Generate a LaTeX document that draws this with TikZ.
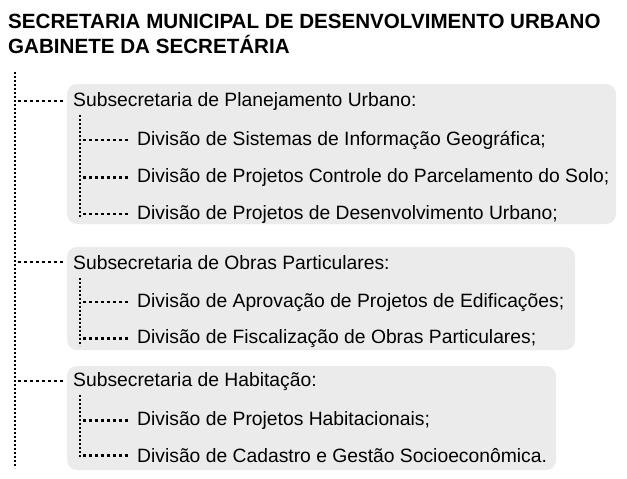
\documentclass[tikz,border=0pt]{standalone}
\usepackage{fontspec}
\setmainfont{Liberation Sans}
\begin{document}
\begin{tikzpicture}[x=1pt,y=-1pt,
  boxbg/.style={fill=boxgray, rounded corners=10pt, draw=none},
  lbl/.style={anchor=base west, inner sep=0pt, font=\fontsize{19.3}{22}\selectfont},
  ttl/.style={anchor=base west, inner sep=0pt, font=\fontsize{20.6}{24}\selectfont\bfseries},
  vdots/.style={line width=2.7pt, dash pattern=on 2.4pt off 1.6pt},
  hdots/.style={line width=2.6pt, dash pattern=on 2.5pt off 3.5pt}
]
\definecolor{boxgray}{HTML}{EBEBEB}
\useasboundingbox (0,0) rectangle (627,479);
\fill[white] (0,0) rectangle (627,479);
% title
\node[ttl] (t1) at (8,28) {SECRETARIA MUNICIPAL DE DESENVOLVIMENTO URBANO};
\node[ttl] (t2) at (8,53) {GABINETE DA SECRETÁRIA};
% boxes
\fill[boxbg] (67,84) rectangle (616,224);
\fill[boxbg] (67,247) rectangle (575,350);
\fill[boxbg] (67,366) rectangle (556,470);
% box 1
\node[lbl] (s1) at (73,106) {Subsecretaria de Planejamento Urbano:};
\node[lbl] (d11) at (137,145) {Divisão de Sistemas de Informação Geográfica;};
\node[lbl] (d12) at (137,182.5) {Divisão de Projetos Controle do Parcelamento do Solo;};
\node[lbl] (d13) at (137,219) {Divisão de Projetos de Desenvolvimento Urbano;};
% box 2
\node[lbl] (s2) at (73,269) {Subsecretaria de Obras Particulares:};
\node[lbl] (d21) at (137,307) {Divisão de Aprovação de Projetos de Edificações;};
\node[lbl] (d22) at (137,343.5) {Divisão de Fiscalização de Obras Particulares;};
% box 3
\node[lbl] (s3) at (73,386) {Subsecretaria de Habitação:};
\node[lbl] (d31) at (137,425.5) {Divisão de Projetos Habitacionais;};
\node[lbl] (d32) at (137,462.5) {Divisão de Cadastro e Gestão Socioeconômica.};
% trunk
\coordinate (tt) at (15,72);
\coordinate (tb) at (15,468);
\draw[vdots] (tt) -- (tb);
\foreach \s in {s1,s2,s3}
  \draw[hdots] (tt |- \s.west) ++(3,0) -- ([xshift=-9pt]\s.west);
% sub trunks
\coordinate (a1) at (80,115); \coordinate (b1) at (80,217);
\coordinate (a2) at (80,278); \coordinate (b2) at (80,346);
\coordinate (a3) at (80,395); \coordinate (b3) at (80,458);
\draw[vdots] (a1) -- (b1);
\draw[vdots] (a2) -- (b2);
\draw[vdots] (a3) -- (b3);
\foreach \d/\a in {d11/a1,d12/a1,d13/a1,d21/a2,d22/a2,d31/a3,d32/a3}
  \draw[hdots] (\a |- \d.west) ++(3,0) -- ([xshift=-7pt]\d.west);
\end{tikzpicture}
\end{document}
